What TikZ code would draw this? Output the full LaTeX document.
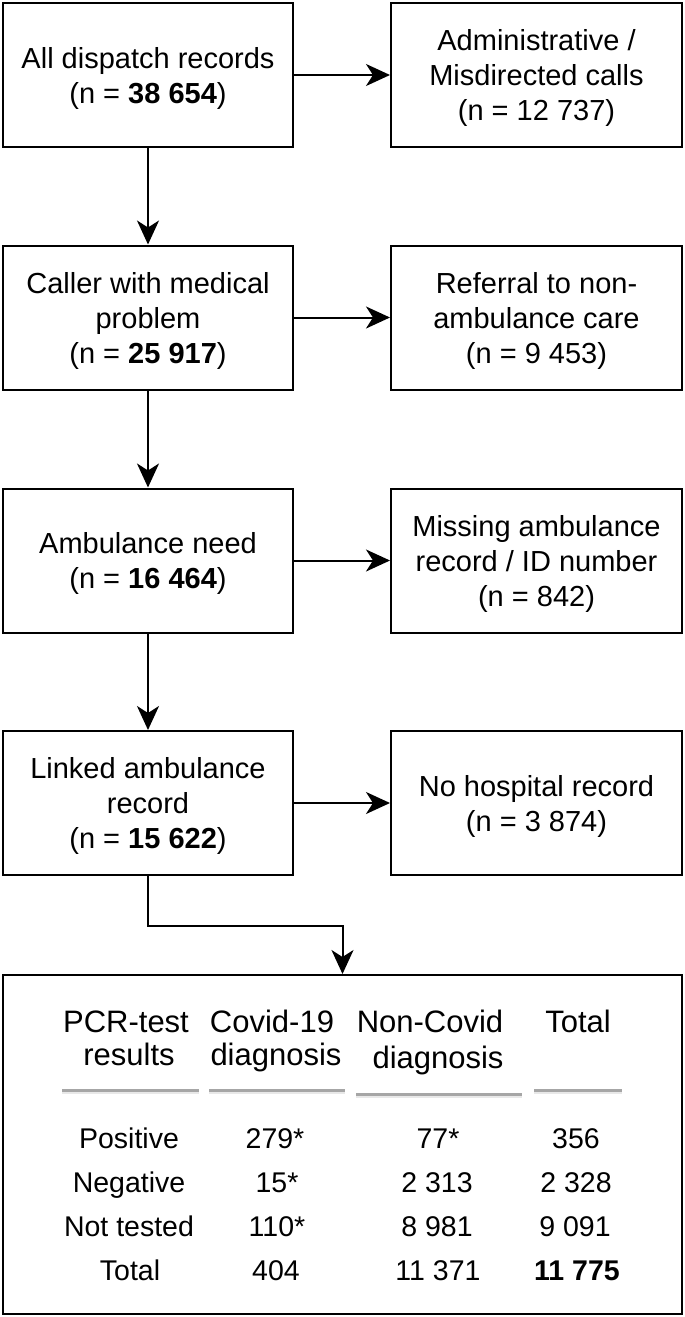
\documentclass[tikz,border=0pt]{standalone}
\usepackage{fontspec}
\setmainfont{Liberation Sans}
\usetikzlibrary{arrows.meta}
\begin{document}
\begin{tikzpicture}[x=1pt,y=-1pt,
  box/.style={draw, line width=2pt, minimum width=290pt, minimum height=144pt, inner sep=0pt},
  btext/.style={align=center, inner sep=0pt, font=\fontsize{29}{35}\selectfont},
  arr/.style={line width=2pt, -{Stealth[length=24pt,width=22pt,inset=7pt]}},
  tt/.style={inner sep=0pt, font=\fontsize{28.5}{34}\selectfont, anchor=base},
  th/.style={inner sep=0pt, font=\fontsize{31}{36}\selectfont, anchor=base},
  rulebar/.style={draw=gray!70, line width=3pt},
  ruleshade/.style={draw=gray!18, line width=2pt}]
\useasboundingbox (0,0) rectangle (685,1317);
% left column
\node[box] (a1) at (148,75) {};
\node[box] (a2) at (148,317.5) {};
\node[box] (a3) at (148,560.5) {};
\node[box] (a4) at (148,803) {};
% right column
\node[box, minimum width=291pt] (b1) at (536.5,75) {};
\node[box, minimum width=291pt] (b2) at (536.5,317.5) {};
\node[box, minimum width=291pt] (b3) at (536.5,560.5) {};
\node[box, minimum width=291pt] (b4) at (536.5,803) {};
% box texts
\node[btext] (a1t) at ([yshift=-3pt]a1.center) {All dispatch records\\(n = \textbf{38 654})};
\node[btext] (a2t) at ([yshift=-3pt]a2.center) {Caller with medical\\problem\\(n = \textbf{25 917})};
\node[btext] (a3t) at ([yshift=-3pt]a3.center) {Ambulance need\\(n = \textbf{16 464})};
\node[btext] (a4t) at ([yshift=-3pt]a4.center) {Linked ambulance\\record\\(n = \textbf{15 622})};
\node[btext] (b1t) at ([yshift=-3pt]b1.center) {Administrative /\\Misdirected calls\\(n = 12 737)};
\node[btext] (b2t) at ([yshift=-3pt]b2.center) {Referral to non-\\ambulance care\\(n = 9 453)};
\node[btext] (b3t) at ([yshift=-3pt]b3.center) {Missing ambulance\\record / ID number\\(n = 842)};
\node[btext] (b4t) at ([yshift=-3pt]b4.center) {No hospital record\\(n = 3 874)};
% table box
\node[draw, line width=2pt, minimum width=679pt, minimum height=339pt, inner sep=0pt] (tbl) at (342.5,1144.5) {};
% connectors
\draw[arr] (a1) -- (b1);
\draw[arr] (a2) -- (b2);
\draw[arr] (a3) -- (b3);
\draw[arr] (a4) -- (b4);
\draw[arr] (a1) -- (a2);
\draw[arr] (a2) -- (a3);
\draw[arr] (a3) -- (a4);
\draw[arr] (a4.south) -- ++(0,50) -| (tbl.north);
% table header
\node[th] (h1a) at (126,1032) {PCR-test};
\node[th] (h1b) at (129,1065) {results};
\node[th] (h2a) at (272,1032) {Covid-19};
\node[th] (h2b) at (276,1065) {diagnosis};
\node[th] (h3a) at (430,1032) {Non-Covid};
\node[th] (h3b) at (438,1068) {diagnosis};
\node[th] (h4) at (578,1032) {Total};
% header rules
\draw[ruleshade] (62,1093) -- (199,1093);
\draw[ruleshade] (209,1093) -- (345,1093);
\draw[ruleshade] (356,1097) -- (522,1097);
\draw[ruleshade] (534,1093) -- (622,1093);
\draw[rulebar] (62,1090.5) -- (199,1090.5);
\draw[rulebar] (209,1090.5) -- (345,1090.5);
\draw[rulebar] (356,1094.5) -- (522,1094.5);
\draw[rulebar] (534,1090) -- (622,1090);
% table rows
\node[tt] (r1c1) at (129,1148) {Positive};
\node[tt] (r1c2) at (275,1148) {279*};
\node[tt] (r1c3) at (438,1148) {77*};
\node[tt] (r1c4) at (576,1148) {356};
\node[tt] (r2c1) at (129,1192) {Negative};
\node[tt] (r2c2) at (277,1192) {15*};
\node[tt] (r2c3) at (437,1192) {2 313};
\node[tt] (r2c4) at (576,1192) {2 328};
\node[tt] (r3c1) at (129,1236) {Not tested};
\node[tt] (r3c2) at (277,1236) {110*};
\node[tt] (r3c3) at (437,1236) {8 981};
\node[tt] (r3c4) at (575,1236) {9 091};
\node[tt] (r4c1) at (130,1280) {Total};
\node[tt] (r4c2) at (276,1280) {404};
\node[tt] (r4c3) at (438,1280) {11 371};
\node[tt] (r4c4) at (577,1280) {\textbf{11 775}};
\end{tikzpicture}
\end{document}
